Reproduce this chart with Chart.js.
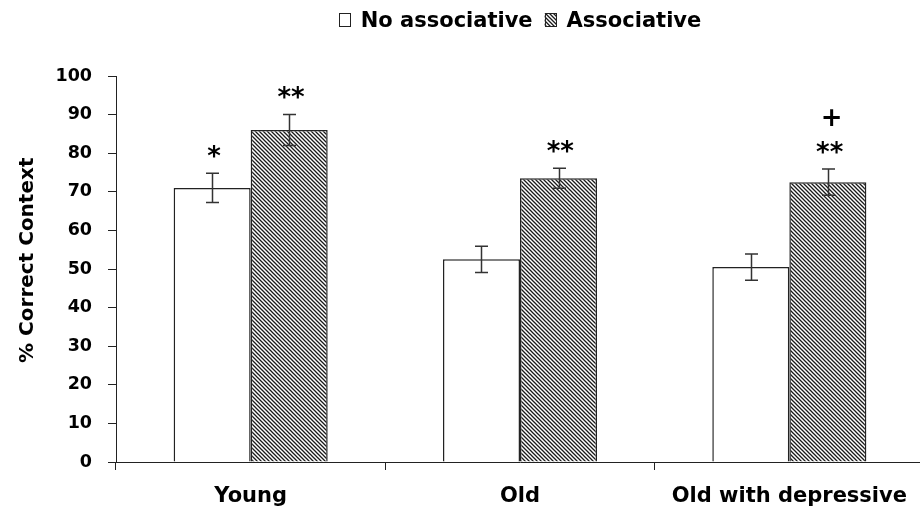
<!DOCTYPE html>
<html>
<head>
<meta charset="utf-8">
<script src="https://cdn.jsdelivr.net/npm/chart.js@4/dist/chart.umd.min.js"></script>
<style>
  html, body { margin: 0; padding: 0; background: #fff; overflow: hidden; }
  #wrap { position: relative; width: 930px; height: 519px; }
</style>
</head>
<body>
<div id="wrap"><canvas id="chart"></canvas></div>
<script>
// Groups and the two conditions
const categories = ['Young', 'Old', 'Old with depressive'];
const seriesNames = ['No associative', 'Associative'];

// Mean % correct context and standard errors
const noAssociative = [71, 52.5, 50.5];
const associative = [86, 73.5, 72.5];
const errNoAssociative = [3.8, 3.4, 3.4];
const errAssociative = [4.0, 2.6, 3.4];

// Significance marks above each bar
const sigNoAssociative = ['*', '', ''];
const sigAssociative = ['**', '**', '**'];
const sigExtraAssociative = ['', '', '+'];

// Value axis
const yTicks = [0, 10, 20, 30, 40, 50, 60, 70, 80, 90, 100];
const yTitle = '% Correct Context';

const FONT = '"DejaVu Sans", "Liberation Sans", sans-serif';
const INK = '#222';

const canvas = document.getElementById('chart');
const mainCtx = canvas.getContext('2d');

// Diagonal "\\\" hatch used for the associative bars
function makeHatch() {
  const s = 4;
  const c = document.createElement('canvas');
  c.width = s; c.height = s;
  const g = c.getContext('2d');
  g.fillStyle = '#fff';
  g.fillRect(0, 0, s, s);
  g.strokeStyle = '#1a1a1a';
  g.lineWidth = 1.3;
  g.beginPath();
  g.moveTo(-1, -1); g.lineTo(s + 1, s + 1);
  g.moveTo(-1, s - 1); g.lineTo(1, s + 1);
  g.moveTo(s - 1, -1); g.lineTo(s + 1, 1);
  g.stroke();
  return mainCtx.createPattern(c, 'repeat');
}
const hatch = makeHatch();

const errors = [errNoAssociative, errAssociative];
const marks = [sigNoAssociative, sigAssociative];
const extraMarks = [null, sigExtraAssociative];

// Draws text so that its ink box is centred on (cx, cy)
function drawCentered(ctx, text, cx, cy) {
  const m = ctx.measureText(text);
  const asc = m.actualBoundingBoxAscent, desc = m.actualBoundingBoxDescent;
  const left = m.actualBoundingBoxLeft, right = m.actualBoundingBoxRight;
  ctx.textAlign = 'left';
  ctx.textBaseline = 'alphabetic';
  ctx.fillText(text, cx - (right - left) / 2, cy + (asc - desc) / 2);
}

const errorBarPlugin = {
  id: 'errorBars',
  afterDatasetsDraw(chart) {
    const ctx = chart.ctx;
    const y = chart.scales.y;
    ctx.save();
    ctx.strokeStyle = '#333';
    ctx.lineWidth = 1.5;
    chart.data.datasets.forEach((ds, i) => {
      const meta = chart.getDatasetMeta(i);
      meta.data.forEach((bar, j) => {
        const v = ds.data[j], e = errors[i][j];
        const x = Math.round(bar.x) + 0.5;
        const yt = y.getPixelForValue(v + e);
        const yb = y.getPixelForValue(v - e);
        ctx.beginPath();
        ctx.moveTo(x, yt); ctx.lineTo(x, yb);
        ctx.moveTo(x - 6.5, yt); ctx.lineTo(x + 6.5, yt);
        ctx.moveTo(x - 6.5, yb); ctx.lineTo(x + 6.5, yb);
        ctx.stroke();
      });
    });
    ctx.restore();
  }
};

const significancePlugin = {
  id: 'significance',
  afterDatasetsDraw(chart) {
    const ctx = chart.ctx;
    const y = chart.scales.y;
    ctx.save();
    ctx.fillStyle = '#000';
    ctx.font = `bold 26px ${FONT}`;
    chart.data.datasets.forEach((ds, i) => {
      const meta = chart.getDatasetMeta(i);
      meta.data.forEach((bar, j) => {
        const top = y.getPixelForValue(ds.data[j] + errors[i][j]);
        const cx = bar.x + 2;
        const cy = top - 22;
        if (marks[i][j]) drawCentered(ctx, marks[i][j], cx, cy);
        if (extraMarks[i] && extraMarks[i][j]) drawCentered(ctx, extraMarks[i][j], cx + 2, cy - 30);
      });
    });
    ctx.restore();
  }
};

const legendPlugin = {
  id: 'topLegend',
  afterDraw(chart) {
    const ctx = chart.ctx;
    const area = chart.chartArea;
    ctx.save();
    ctx.font = `bold 21px ${FONT}`;
    const boxW = 12, boxH = 14, gapText = 10, gapItem = 12;
    const baseY = 27;
    const items = chart.data.datasets.map(ds => ({
      text: ds.label, fill: ds.backgroundColor, w: ctx.measureText(ds.label).width
    }));
    let total = 0;
    items.forEach((it, i) => { total += boxW + gapText + it.w + (i ? gapItem : 0); });
    let x = (area.left + area.right) / 2 - total / 2;
    items.forEach((it, i) => {
      if (i) x += gapItem;
      ctx.fillStyle = it.fill;
      ctx.fillRect(x, baseY - boxH, boxW, boxH);
      ctx.strokeStyle = INK;
      ctx.lineWidth = 1;
      ctx.strokeRect(Math.round(x) + 0.5, baseY - boxH + 0.5, boxW - 1, boxH - 1);
      x += boxW + gapText;
      ctx.fillStyle = '#000';
      ctx.textAlign = 'left';
      ctx.textBaseline = 'alphabetic';
      ctx.fillText(it.text, x, baseY);
      x += it.w;
    });
    ctx.restore();
  }
};

const yTitlePlugin = {
  id: 'yTitle',
  afterDraw(chart) {
    const ctx = chart.ctx;
    ctx.save();
    ctx.font = `bold 20px ${FONT}`;
    ctx.fillStyle = '#000';
    ctx.translate(26, 260);
    ctx.rotate(-Math.PI / 2);
    drawCentered(ctx, yTitle, 0, 0);
    ctx.restore();
  }
};

new Chart(canvas, {
  type: 'bar',
  data: {
    labels: categories,
    datasets: [
      {
        label: seriesNames[0],
        data: noAssociative,
        backgroundColor: '#ffffff',
        borderColor: INK,
        borderWidth: 1.5,
        categoryPercentage: 0.572,
        barPercentage: 1.0
      },
      {
        label: seriesNames[1],
        data: associative,
        backgroundColor: hatch,
        borderColor: INK,
        borderWidth: 1.5,
        categoryPercentage: 0.572,
        barPercentage: 1.0
      }
    ]
  },
  options: {
    responsive: true,
    maintainAspectRatio: false,
    animation: false,
    devicePixelRatio: 1,
    layout: { padding: { top: 76, left: 0, right: 6, bottom: 0 } },
    plugins: {
      legend: { display: false },
      tooltip: { enabled: false }
    },
    scales: {
      x: {
        offset: true,
        grid: { offset: true, drawOnChartArea: false, drawTicks: true, tickLength: 8, color: INK, lineWidth: 1 },
        border: { display: true, color: INK, width: 1 },
        ticks: {
          color: '#000',
          font: { family: FONT, size: 21, weight: 'bold' },
          padding: 14,
          maxRotation: 0,
          autoSkip: false
        },
        afterFit(scale) { scale.height = 57; }
      },
      y: {
        min: 0,
        max: 100,
        afterBuildTicks(scale) { scale.ticks = yTicks.map(v => ({ value: v })); },
        grid: { drawOnChartArea: false, drawTicks: true, tickLength: 8, color: INK, lineWidth: 1 },
        border: { display: true, color: INK, width: 1 },
        ticks: {
          color: '#000',
          font: { family: FONT, size: 17.5, weight: 'bold' },
          padding: 16
        },
        afterFit(scale) { scale.width = 116; }
      }
    }
  },
  plugins: [errorBarPlugin, significancePlugin, legendPlugin, yTitlePlugin]
});
</script>
</body>
</html>
